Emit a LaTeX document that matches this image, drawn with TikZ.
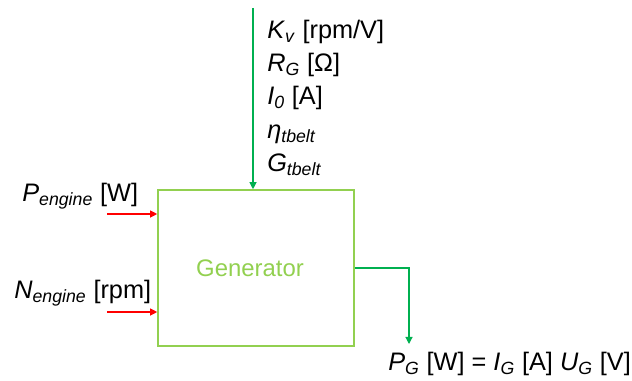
\documentclass[tikz,border=0pt]{standalone}
\usepackage{fontspec}
\setmainfont{Liberation Sans}
\usepackage{tikz}
\usetikzlibrary{arrows.meta, positioning, calc}
\definecolor{boxgreen}{HTML}{92D050}
\definecolor{arrgreen}{HTML}{00B050}
\tikzstyle{greenarrow} = [draw=arrgreen, line width=0.8pt, -{Triangle[length=5pt, width=5pt]}]
\tikzstyle{redarrow} = [draw=red, line width=0.8pt, -{Triangle[length=5pt, width=5pt]}]
\newcommand{\sym}[2]{\textit{#1}\textsubscript{\textit{#2}}}

\begin{document}
\begin{tikzpicture}[x=0.025cm, y=-0.025cm, every node/.style={inner sep=0pt, font=\fontsize{18}{23.6}\selectfont}]
    \useasboundingbox (0,0) rectangle (632,381);
    \node (gen) [draw=boxgreen, line width=1.1pt, minimum width=4.9cm, minimum height=3.9cm,
        label={[text=boxgreen, font=\fontsize{17}{20}\selectfont, xshift=-0.15cm]center:Generator}] at (256,268) {};

    \coordinate (kin) at (253,8);
    \node (params) [anchor=north west, align=left] at (267,20) {\sym{K}{v} [rpm/V]\\ \sym{R}{G} [Ω]\\ \sym{I}{0} [A]\\ \sym{η}{tbelt}\\ \sym{G}{tbelt}};
    \draw[greenarrow] (kin) -- (kin |- gen.north);

    \node (plabel) [anchor=base west] at (22,201) {\sym{P}{engine} [W]};
    \node (nlabel) [anchor=base west] at (14,298) {\sym{N}{engine} [rpm]};
    \coordinate (pin) at (107,214);
    \coordinate (nin) at (107,312);
    \draw[redarrow] (pin) -- (pin -| gen.west);
    \draw[redarrow] (nin) -- (nin -| gen.west);

    \coordinate (gend) at (409,344);
    \draw[greenarrow] (gen.east) -| (gend);
    \node (pglabel) [anchor=base west] at (388,370) {\sym{P}{G} [W] = \sym{I}{G} [A] \sym{U}{G} [V]};
\end{tikzpicture}
\end{document}
